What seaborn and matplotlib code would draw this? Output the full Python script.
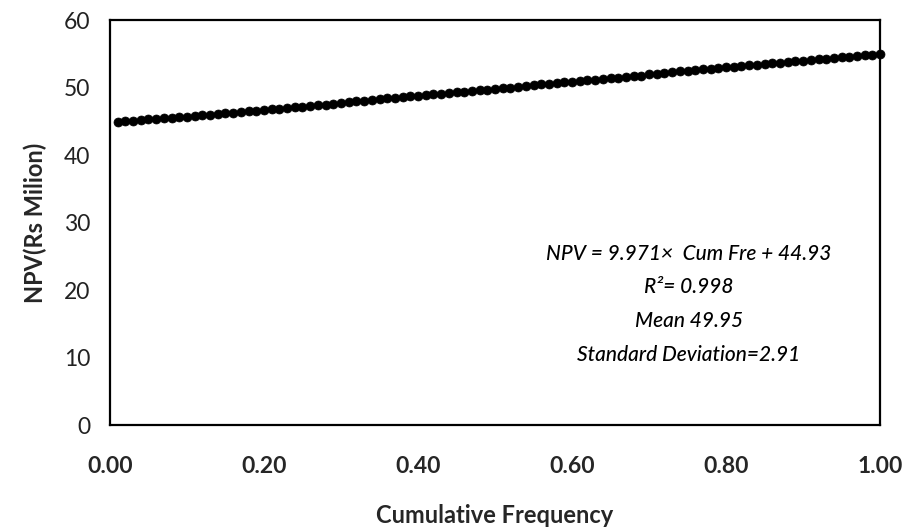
import matplotlib
matplotlib.use("Agg")
import matplotlib.pyplot as plt
import seaborn as sns
import pandas as pd

# cumulative frequency of each simulated NPV
cum_freq = [0.01, 0.02, 0.03, 0.04, 0.05, 0.06, 0.07, 0.08, 0.09, 0.10,
            0.11, 0.12, 0.13, 0.14, 0.15, 0.16, 0.17, 0.18, 0.19, 0.20,
            0.21, 0.22, 0.23, 0.24, 0.25, 0.26, 0.27, 0.28, 0.29, 0.30,
            0.31, 0.32, 0.33, 0.34, 0.35, 0.36, 0.37, 0.38, 0.39, 0.40,
            0.41, 0.42, 0.43, 0.44, 0.45, 0.46, 0.47, 0.48, 0.49, 0.50,
            0.51, 0.52, 0.53, 0.54, 0.55, 0.56, 0.57, 0.58, 0.59, 0.60,
            0.61, 0.62, 0.63, 0.64, 0.65, 0.66, 0.67, 0.68, 0.69, 0.70,
            0.71, 0.72, 0.73, 0.74, 0.75, 0.76, 0.77, 0.78, 0.79, 0.80,
            0.81, 0.82, 0.83, 0.84, 0.85, 0.86, 0.87, 0.88, 0.89, 0.90,
            0.91, 0.92, 0.93, 0.94, 0.95, 0.96, 0.97, 0.98, 0.99, 1.00]

npv = [44.9, 45.0, 45.1, 45.2, 45.3, 45.4, 45.5, 45.5, 45.6, 45.7,
       45.8, 45.9, 46.0, 46.1, 46.2, 46.3, 46.4, 46.5, 46.6, 46.7,
       46.8, 46.9, 47.0, 47.1, 47.2, 47.3, 47.4, 47.5, 47.6, 47.7,
       47.9, 48.0, 48.1, 48.2, 48.3, 48.4, 48.5, 48.6, 48.7, 48.8,
       48.9, 49.0, 49.1, 49.2, 49.3, 49.4, 49.5, 49.6, 49.7, 49.8,
       49.9, 50.0, 50.1, 50.2, 50.4, 50.5, 50.6, 50.7, 50.8, 50.9,
       51.0, 51.1, 51.2, 51.3, 51.4, 51.5, 51.6, 51.7, 51.8, 52.0,
       52.1, 52.2, 52.3, 52.4, 52.5, 52.6, 52.7, 52.8, 52.9, 53.0,
       53.1, 53.2, 53.3, 53.4, 53.5, 53.6, 53.7, 53.8, 53.9, 54.0,
       54.1, 54.2, 54.3, 54.4, 54.5, 54.6, 54.7, 54.8, 54.9, 55.0]

x_ticks = [0.0, 0.2, 0.4, 0.6, 0.8, 1.0]
x_tick_labels = ["0.00", "0.20", "0.40", "0.60", "0.80", "1.00"]
y_ticks = [0, 10, 20, 30, 40, 50, 60]

stats_text = ["NPV = 9.971\u00d7  Cum Fre + 44.93",
              "R\u00b2= 0.998",
              "Mean 49.95",
              "Standard Deviation=2.91"]

df = pd.DataFrame({"cum_freq": cum_freq, "npv": npv})

sns.set_style("white")
plt.rcParams["font.family"] = ["Lato", "DejaVu Sans"]

fig = plt.figure(figsize=(9.05, 5.32), dpi=100)
ax = fig.add_axes([0.1215, 0.201, 0.851, 0.761])

sns.scatterplot(data=df, x="cum_freq", y="npv", color="black", s=42,
                edgecolor="black", linewidth=0.5, ax=ax, clip_on=False, zorder=3)

ax.set_xlim(0, 1)
ax.set_ylim(0, 60)
ax.set_xticks(x_ticks)
ax.set_xticklabels(x_tick_labels, fontsize=16.5, fontweight="bold")
ax.set_yticks(y_ticks)
ax.set_yticklabels([str(v) for v in y_ticks], fontsize=16.5, color="#222222")
ax.tick_params(axis="both", direction="in", length=6, width=1.3, color="black")
ax.tick_params(axis="x", pad=22)
ax.tick_params(axis="y", pad=14)

for s in ax.spines.values():
    s.set_color("black")
    s.set_linewidth(1.6)

ax.set_xlabel("Cumulative Frequency", fontsize=17, fontweight="bold", labelpad=20)
ax.set_ylabel("NPV(Rs Milion)", fontsize=17, fontweight="bold", labelpad=12)

for i, line in enumerate(stats_text):
    ax.text(0.752, 0.423 - i * 0.083, line, transform=ax.transAxes, ha="center",
            va="center", fontsize=15, style="italic", fontweight="medium",
            color="#000000")

fig.savefig("out.png", dpi=100)
